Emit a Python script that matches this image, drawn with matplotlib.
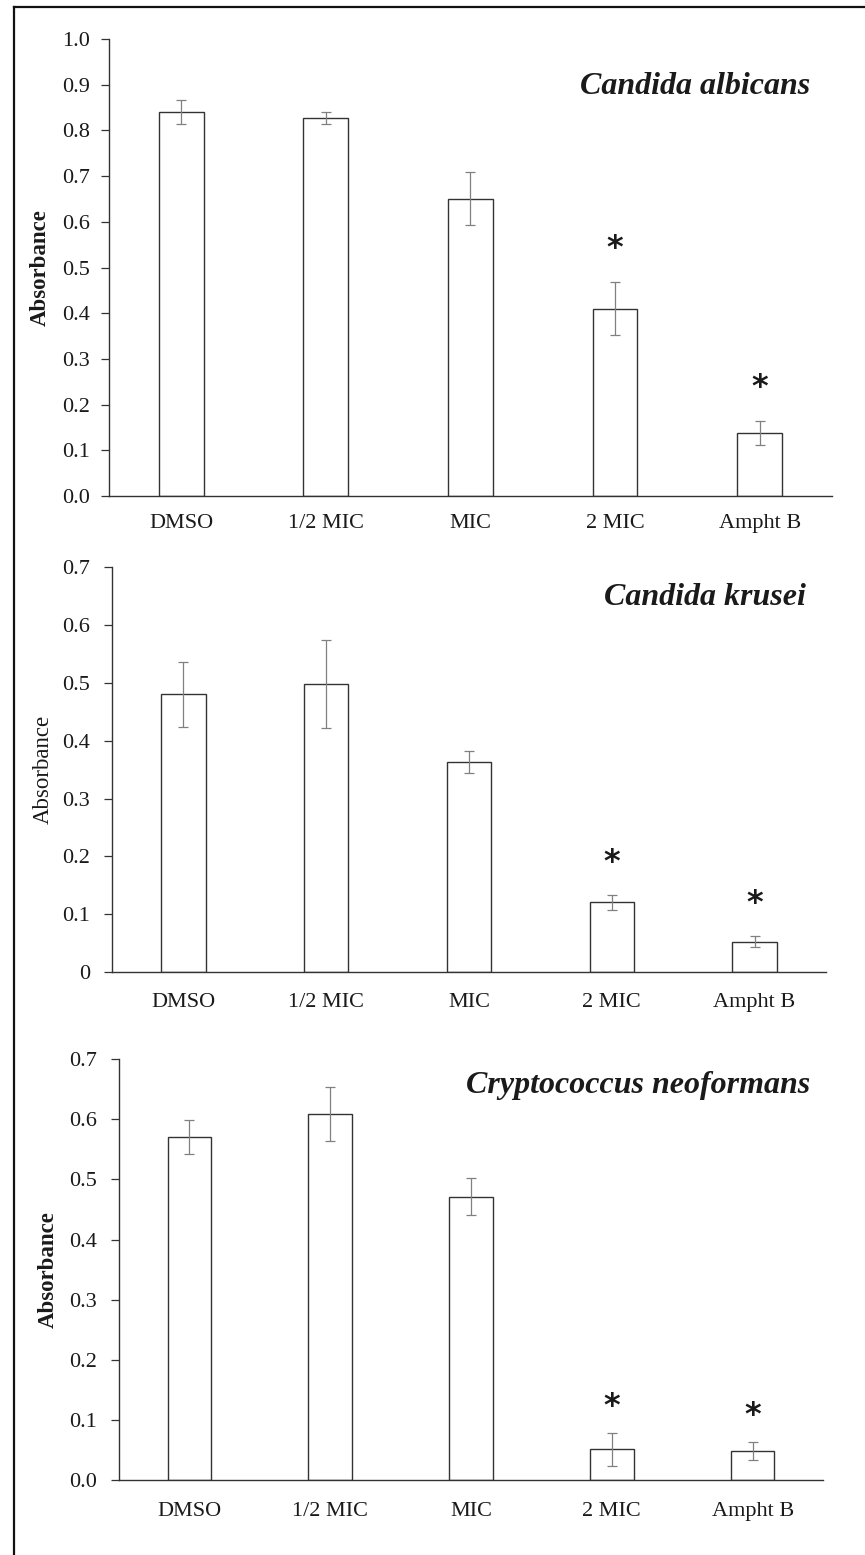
import numpy as np
import matplotlib
matplotlib.use("Agg")
import matplotlib.pyplot as plt
from matplotlib.lines import Line2D
from matplotlib.ticker import FormatStrFormatter, FuncFormatter

plt.rcParams['font.family'] = ['Liberation Serif', 'DejaVu Serif']

# --- Data ---
categories = ['DMSO', '1/2 MIC', 'MIC', '2 MIC', 'Ampht B']
significant = [False, False, False, True, True]

albicans_mean = [0.840, 0.828, 0.650, 0.410, 0.138]
albicans_err = [0.027, 0.013, 0.058, 0.058, 0.027]

krusei_mean = [0.480, 0.498, 0.363, 0.121, 0.053]
krusei_err = [0.056, 0.076, 0.019, 0.013, 0.010]

neoformans_mean = [0.570, 0.609, 0.471, 0.051, 0.048]
neoformans_err = [0.028, 0.045, 0.031, 0.027, 0.015]

text_col = '#1a1a1a'
edge_col = '#333333'
err_col = '#808080'

fig = plt.figure(figsize=(8.65, 15.55), dpi=100)

# per-panel layout settings
panels = [
    dict(rect=[0.1260, 0.6810, 0.8358, 0.2939], mean=albicans_mean, err=albicans_err,
         title='Candida albicans', ymax=1.0, fmt='%.1f', bold=True,
         tpos=(0.970, 0.897), ylx=-0.0954, ypad=8, xpad=13, star=24),
    dict(rect=[0.1295, 0.3747, 0.8254, 0.2608], mean=krusei_mean, err=krusei_err,
         title='Candida krusei', ymax=0.7, fmt='general', bold=False,
         tpos=(0.972, 0.925), ylx=-0.0966, ypad=10, xpad=15, star=23),
    dict(rect=[0.1376, 0.0482, 0.8139, 0.2707], mean=neoformans_mean, err=neoformans_err,
         title='Cryptococcus neoformans', ymax=0.7, fmt='%.1f', bold=True,
         tpos=(0.9815, 0.938), ylx=-0.1009, ypad=10, xpad=16, star=19),
]

x = np.arange(len(categories))

for p in panels:
    ax = fig.add_axes(p['rect'])
    ax.bar(x, p['mean'], width=0.31, color='white', edgecolor=edge_col, linewidth=1.0, zorder=2)
    ax.errorbar(x, p['mean'], yerr=p['err'], fmt='none', ecolor=err_col,
                elinewidth=0.9, capsize=3.6, capthick=0.9, zorder=3)

    # significance stars
    for xi, m, e, s in zip(x, p['mean'], p['err'], significant):
        if s:
            ax.annotate('*', xy=(xi, m + e), xytext=(0, p['star']), textcoords='offset points',
                        ha='center', va='center', fontsize=23, fontweight='bold',
                        family='DejaVu Sans', color=text_col)

    ax.set_xlim(-0.5, len(categories) - 0.5)
    ax.set_ylim(0, p['ymax'])
    ax.set_yticks(np.arange(0, p['ymax'] + 0.001, 0.1))
    if p['fmt'] == 'general':
        ax.yaxis.set_major_formatter(FuncFormatter(lambda v, pos: '0' if abs(v) < 1e-9 else '%.1f' % v))
    else:
        ax.yaxis.set_major_formatter(FormatStrFormatter(p['fmt']))
    ax.set_xticks(x)
    ax.set_xticklabels(categories)

    for s in ['top', 'right']:
        ax.spines[s].set_visible(False)
    for s in ['left', 'bottom']:
        ax.spines[s].set_color(edge_col)
        ax.spines[s].set_linewidth(1.0)

    ax.tick_params(axis='y', direction='out', length=5.8, width=0.9, color=edge_col,
                   labelsize=16, labelcolor=text_col, pad=p['ypad'])
    ax.tick_params(axis='x', length=0, labelsize=16, labelcolor=text_col, pad=p['xpad'])

    ax.set_ylabel('Absorbance', fontsize=16.5, color=text_col,
                  fontweight='bold' if p['bold'] else 'normal', va='center')
    ax.yaxis.set_label_coords(p['ylx'], 0.5)

    ax.text(p['tpos'][0], p['tpos'][1], p['title'], transform=ax.transAxes,
            ha='right', va='center', fontsize=23, fontweight='bold', fontstyle='italic',
            color=text_col)

# outer frame (top and left edges only)
fig.add_artist(Line2D([14 / 865, 1.0], [1 - 7 / 1555, 1 - 7 / 1555], transform=fig.transFigure,
                      color='#111111', linewidth=1.6))
fig.add_artist(Line2D([14 / 865, 14 / 865], [0.0, 1 - 7 / 1555], transform=fig.transFigure,
                      color='#111111', linewidth=1.6))

fig.savefig('out.png', dpi=100, facecolor='white')
